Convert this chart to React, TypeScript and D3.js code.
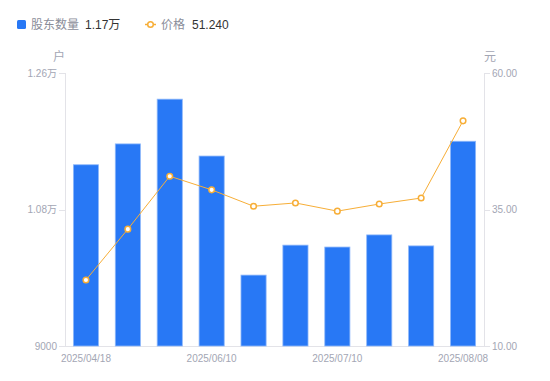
import React from "react";
import * as d3 from "d3";

const dates = ["2025/04/18", "2025/04/30", "2025/05/20", "2025/06/10", "2025/06/20", "2025/06/30", "2025/07/10", "2025/07/18", "2025/07/31", "2025/08/08"];
const holders = [11390, 11665, 12255, 11505, 9935, 10330, 10305, 10465, 10320, 11700];
const prices = [22.1, 31.4, 41.1, 38.6, 35.6, 36.2, 34.7, 36.0, 37.1, 51.24];
const leftTicks = [9000, 10800, 12600];
const leftTickLabels = ["9000", "1.08万", "1.26万"];
const rightTicks = [10, 35, 60];
const shownDateIdx = [0, 3, 6, 9];

const W = 550, H = 381;
const L = 65, R = 484, T = 73, B = 346;
const FONT = "'Liberation Sans', Arial, 'Noto Sans CJK SC', sans-serif";
const BLUE = "#2878F5";
const ORANGE = "#F7AE37";
const GRAY = "#a3a6b4";
const AXIS = "#e3e3e8";

export default function App() {
  const x = d3.scaleBand<string>().domain(dates).range([L, R]).paddingInner(0.4).paddingOuter(0.2);
  const xc = (d: string) => (x(d) as number) + x.bandwidth() / 2;
  const yL = d3.scaleLinear().domain([9000, 12600]).range([B, T]);
  const yR = d3.scaleLinear().domain([10, 60]).range([B, T]);
  const line = d3.line<number>().x((_, i) => xc(dates[i])).y((d) => yR(d));

  return (
    <svg width={W} height={H} style={{ position: "absolute", left: 0, top: 0, fontFamily: FONT }}>
      {/* legend */}
      <rect x={17} y={20} width={9} height={9} rx={1.5} fill={BLUE} />
      <text x={31} y={29} fontSize={12} fill="#8a8d99">股东数量</text>
      <text x={85} y={29} fontSize={12} fill="#333">{(holders[holders.length - 1] / 10000).toFixed(2) + "万"}</text>
      <line x1={145} x2={156} y1={24.5} y2={24.5} stroke={ORANGE} strokeWidth={1.5} />
      <circle cx={150.5} cy={24.5} r={2.8} fill="#fff" stroke={ORANGE} strokeWidth={1.5} />
      <text x={161} y={29} fontSize={12} fill="#8a8d99">价格</text>
      <text x={192} y={29} fontSize={12} fill="#333">{prices[prices.length - 1].toFixed(3)}</text>

      {/* units */}
      <text x={59} y={61} fontSize={12} fill={GRAY} textAnchor="middle">户</text>
      <text x={490} y={61} fontSize={12} fill={GRAY} textAnchor="middle">元</text>

      {/* axes lines */}
      <line x1={L + 0.5} x2={L + 0.5} y1={T} y2={B} stroke={AXIS} />
      <line x1={R + 0.5} x2={R + 0.5} y1={T} y2={B} stroke={AXIS} />
      <line x1={L} x2={R + 1} y1={B + 0.5} y2={B + 0.5} stroke={AXIS} />

      {leftTicks.map((t, i) => (
        <g key={"l" + i}>
          <line x1={L - 6} x2={L} y1={Math.round(yL(t)) + 0.5} y2={Math.round(yL(t)) + 0.5} stroke={AXIS} />
          <text x={L - 8} y={yL(t) + 3.5} fontSize={10} fill={GRAY} textAnchor="end">{leftTickLabels[i]}</text>
        </g>
      ))}
      {rightTicks.map((t, i) => (
        <g key={"r" + i}>
          <line x1={R + 1} x2={R + 6} y1={Math.round(yR(t)) + 0.5} y2={Math.round(yR(t)) + 0.5} stroke={AXIS} />
          <text x={R + 8} y={yR(t) + 3.5} fontSize={10} fill={GRAY}>{t.toFixed(2)}</text>
        </g>
      ))}
      {shownDateIdx.map((i) => (
        <text key={"d" + i} x={xc(dates[i])} y={362} fontSize={10} fill={GRAY} textAnchor="middle">{dates[i]}</text>
      ))}

      {/* bars */}
      {holders.map((v, i) => (
        <rect key={"b" + i} x={x(dates[i])} y={yL(v)} width={x.bandwidth()} height={B - yL(v)}
          fill={BLUE} stroke="#8fb8fa" strokeWidth={0.8} />
      ))}

      {/* line */}
      <path d={line(prices) || ""} fill="none" stroke={ORANGE} strokeWidth={1} />
      {prices.map((p, i) => (
        <circle key={"c" + i} cx={xc(dates[i])} cy={yR(p)} r={2.8} fill="#fff" stroke={ORANGE} strokeWidth={1.5} />
      ))}
    </svg>
  );
}
